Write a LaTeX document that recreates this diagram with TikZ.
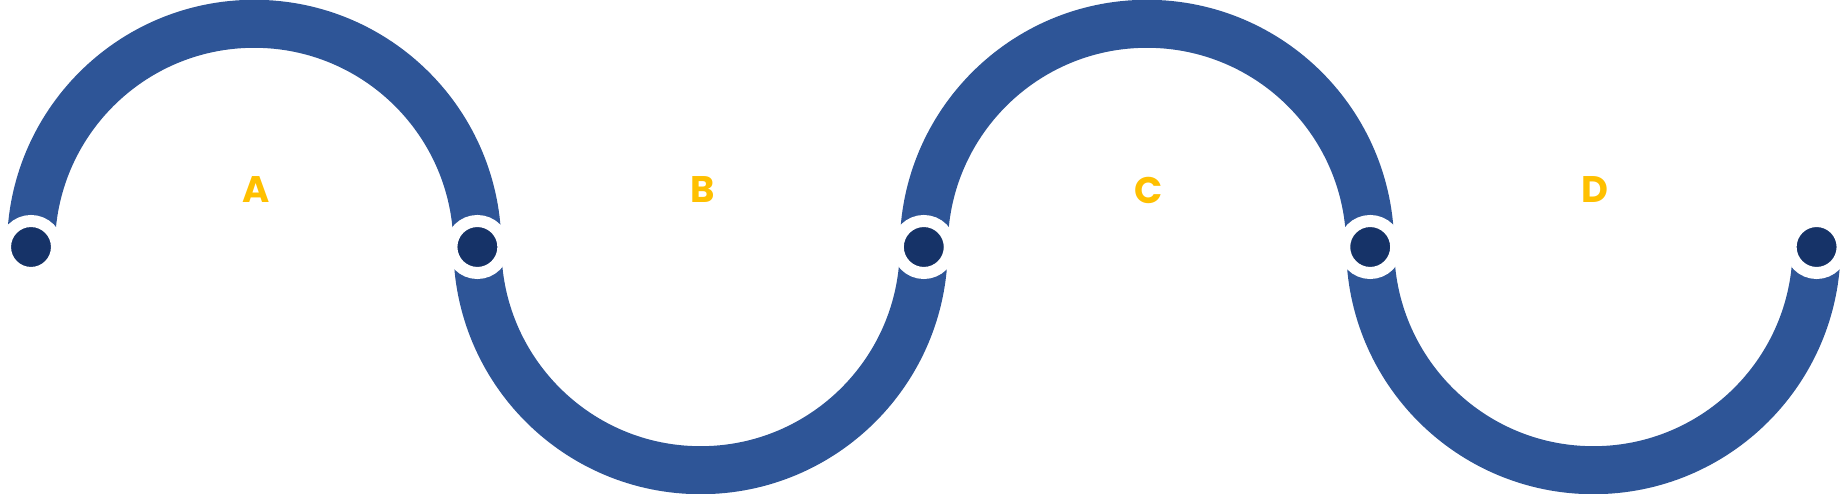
\documentclass[tikz,border=0pt]{standalone}
\usepackage{fontspec}
\setmainfont{Poppins}
\usepackage{tikz}
\usetikzlibrary{positioning,backgrounds}
\definecolor{bandblue}{RGB}{46,85,151}
\definecolor{jointblue}{RGB}{22,51,104}
\definecolor{letteryellow}{RGB}{255,192,0}
\begin{document}
\begin{tikzpicture}[x=1pt,y=1pt]
            \tikzstyle{joint} = [shape=circle, fill=jointblue, draw=white, line width=12pt, minimum size=52pt, inner sep=0pt, node distance=446.4pt, on grid];
\tikzstyle{band} = [draw=bandblue, line width=48pt];
\tikzstyle{stageletter} = [text=letteryellow, font=\bfseries\fontsize{37}{44}\selectfont, inner sep=0pt, node distance=57pt and 225pt, on grid];
\tikzstyle{stagetext} = [text=white, align=center, font=\fontsize{30}{56}\selectfont, inner sep=0pt, node distance=29pt and 223.2pt, on grid];

\useasboundingbox (-31,-247) rectangle (1817,247);

\node[joint](DotA) at (0,0) {};
\node[joint, right=of DotA](DotB) {};
\node[joint, right=of DotB](DotC) {};
\node[joint, right=of DotC](DotD) {};
\node[joint, right=of DotD](DotE) {};

\node[stageletter, above right=of DotA](LetterA) {A};
\node[stageletter, above right=of DotB](LetterB) {B};
\node[stageletter, above right=of DotC](LetterC) {C};
\node[stageletter, above right=of DotD](LetterD) {D};

\node[stagetext, below right=of DotA](TextA) {Horizontal\\Integration};
\node[stagetext, below right=of DotB](TextB) {Market\\Expansion};
\node[stagetext, below right=of DotC](TextC) {Financial\\Hub};
\node[stagetext, below right=of DotD](TextD) {Local Partner\\Networks};

\begin{scope}[on background layer]
\draw[band] (DotA.center) arc[start angle=180, end angle=0, radius=223.2];
\draw[band] (DotB.center) arc[start angle=180, end angle=360, radius=223.2];
\draw[band] (DotC.center) arc[start angle=180, end angle=0, radius=223.2];
\draw[band] (DotD.center) arc[start angle=180, end angle=360, radius=223.2];
\end{scope}
        \end{tikzpicture}
\end{document}
